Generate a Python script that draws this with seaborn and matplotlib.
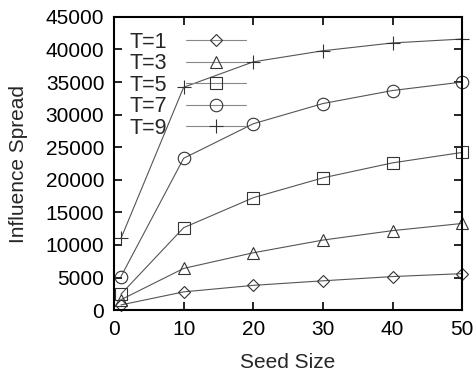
import pandas as pd
import matplotlib
matplotlib.use("Agg")
import matplotlib.pyplot as plt
import seaborn as sns

# seed sizes on the x axis
seed_size = [1, 10, 20, 30, 40, 50]

# influence spread for each T
t1 = [800, 2800, 3800, 4500, 5150, 5600]
t3 = [1600, 6400, 8800, 10750, 12200, 13300]
t5 = [2450, 12650, 17250, 20300, 22600, 24200]
t7 = [5150, 23300, 28600, 31700, 33700, 35000]
t9 = [11000, 34200, 38100, 39800, 41000, 41600]

labels = ["T=1", "T=3", "T=5", "T=7", "T=9"]
series = [t1, t3, t5, t7, t9]
markers = ["D", "^", "s", "o", "+"]
msizes = [6, 8, 9, 9, 10]

rows = []
for lab, vals in zip(labels, series):
    for x, y in zip(seed_size, vals):
        rows.append({"T": lab, "Seed Size": x, "Influence Spread": y})
df = pd.DataFrame(rows)

sns.set_style("ticks")
plt.rcParams["font.family"] = ["Liberation Sans", "DejaVu Sans"]

fig, ax = plt.subplots(figsize=(4.77, 3.75), dpi=100)
fig.subplots_adjust(left=0.239, right=0.969, bottom=0.173, top=0.955)

for lab, mk, ms in zip(labels, markers, msizes):
    sns.lineplot(
        data=df[df["T"] == lab],
        x="Seed Size",
        y="Influence Spread",
        ax=ax,
        color="#555555",
        linewidth=0.8,
        marker=mk,
        markersize=ms,
        markerfacecolor="none",
        markeredgecolor="#333333",
        markeredgewidth=0.8,
        label=lab,
        clip_on=False,
    )

ax.set_xlim(0, 50)
ax.set_ylim(0, 45000)
ax.set_xticks(range(0, 51, 10))
ax.set_yticks(range(0, 45001, 5000))
ax.tick_params(direction="in", length=6, width=1.2, top=True, right=True,
               labelsize=15, colors="black", pad=7)
for sp in ax.spines.values():
    sp.set_linewidth(1.5)
    sp.set_color("black")
ax.set_xlabel("Seed Size", fontsize=15, labelpad=10)
ax.set_ylabel("Influence Spread", fontsize=15, labelpad=13)

leg = ax.legend(loc="upper left", frameon=False, markerfirst=False,
                handlelength=2.8, fontsize=15.5, labelspacing=0.02,
                borderaxespad=0.3, handletextpad=0.9, borderpad=0.4)
for h in leg.get_lines():
    h.set_color("#888888")
    h.set_markeredgecolor("#333333")

fig.savefig("out.png", dpi=100)
